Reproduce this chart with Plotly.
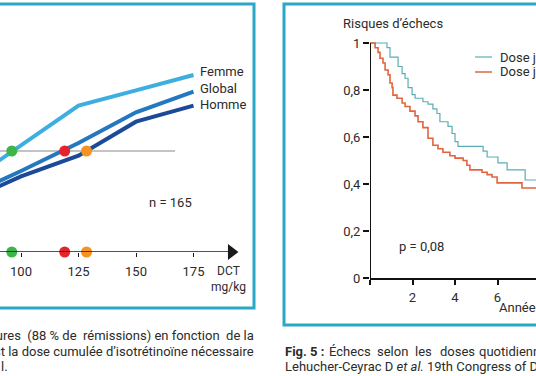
import plotly.graph_objects as go

W, H = 536, 376


def px(x):
    return x / W


def py(y):
    return 1 - y / H


# ---------------- Left chart data: % guérisons vs DCT ----------------
dose = [75, 100, 125, 150, 175]
femme = [82.9, 88.9, 94.8, 97.1, 99.4]
global_ = [81.0, 85.0, 89.2, 93.8, 96.9]
homme = [80.3, 84.2, 87.3, 92.4, 94.8]
series_names = ["Femme", "Global", "Homme"]
seuil = 88
seuil_dose = [75, 167]
cross_dose = [96, 119, 128.5]
cross_colors = ["#3cb54a", "#e5232b", "#f6921e"]
left_ticks = [100, 125, 150, 175]
n_label = "n = 165"

# ---------------- Right chart data: Kaplan-Meier ----------------
teal_t = [0, 0.8, 0.94, 1.32, 1.51, 1.65, 1.79, 1.98, 2.12, 2.49, 2.73, 2.96, 3.15,
          3.29, 3.67, 3.86, 4.0, 4.14, 5.32, 5.51, 6.02, 6.45, 7.3, 8.5]
teal_s = [1.0, 0.98, 0.94, 0.90, 0.87, 0.85, 0.81, 0.78, 0.765, 0.75, 0.74, 0.72, 0.70,
          0.665, 0.645, 0.615, 0.58, 0.56, 0.54, 0.515, 0.49, 0.46, 0.417, 0.417]
red_t = [0, 0.24, 0.38, 0.47, 0.61, 0.71, 0.85, 0.94, 1.04, 1.08, 1.27, 1.51, 1.65,
         1.88, 2.12, 2.26, 2.49, 2.73, 2.96, 3.2, 3.43, 3.76, 4.0, 4.38, 4.56, 4.7,
         5.27, 5.51, 5.74, 5.98, 7.15, 8.5]
red_s = [1.0, 0.98, 0.96, 0.935, 0.915, 0.885, 0.865, 0.83, 0.81, 0.778, 0.765, 0.745, 0.73,
         0.71, 0.69, 0.665, 0.64, 0.595, 0.565, 0.55, 0.535, 0.52, 0.51, 0.50, 0.48, 0.46,
         0.45, 0.44, 0.43, 0.405, 0.383, 0.383]
km_yticks = [0, 0.2, 0.4, 0.6, 0.8, 1]
km_yticktext = ["0", "0,2", "0,4", "0,6", "0,8", "1"]
km_xticks = [0, 2, 4, 6]
km_xticktext = ["", "2", "4", "6"]

caption_left = ["cures (88 % de rémissions) en fonction de la",
                "st la dose cumulée d’isotrétinoïne nécessaire",
                "l."]
caption_right_1 = ["<b>Fig. 5 :</b>", "Échecs", "selon", "les", "doses", "quotidiennes"]
caption_right_2 = "Lehucher-Ceyrac D <i>et al.</i> 19th Congress of Dermatology"

FONT = "Roboto"
TXT = "#2b2b2b"
BORDER = "#2ba7c8"
c_femme, c_global, c_homme = "#3daee0", "#2478c0", "#1c4a98"
c_teal, c_red = "#5aaeb4", "#e2643f"

fig = go.Figure()


def note(x, y, text, xanchor="left", size=13):
    fig.add_annotation(x=px(x), y=py(y), xref="paper", yref="paper", text=text,
                       showarrow=False, xanchor=xanchor, yanchor="middle",
                       font=dict(family=FONT, size=size, color=TXT))


# left chart
fig.add_trace(go.Scatter(x=seuil_dose, y=[seuil, seuil], mode="lines",
                         line=dict(color="#8a8a8a", width=1), xaxis="x", yaxis="y"))
for ys, col in zip([femme, global_, homme], [c_femme, c_global, c_homme]):
    fig.add_trace(go.Scatter(x=dose, y=ys, mode="lines", line=dict(color=col, width=4),
                             xaxis="x", yaxis="y"))
fig.add_trace(go.Scatter(x=cross_dose, y=[seuil] * 3, mode="markers",
                         marker=dict(color=cross_colors, size=11), xaxis="x", yaxis="y"))
ymin_left = 72.85
fig.add_trace(go.Scatter(x=cross_dose, y=[ymin_left] * 3, mode="markers", cliponaxis=False,
                         marker=dict(color=cross_colors, size=11), xaxis="x", yaxis="y"))
fig.add_trace(go.Scatter(x=[191.5], y=[ymin_left], mode="markers", cliponaxis=False,
                         marker=dict(symbol="triangle-right", size=14, color="#1a1a1a"),
                         xaxis="x", yaxis="y"))

for name, yy in zip(series_names, [72, 89, 104]):
    note(198, yy, name)
note(170, 202, n_label, "center")
note(228, 279, "DCT<br>mg/kg", "center", 12)

# right chart
fig.add_trace(go.Scatter(x=teal_t, y=teal_s, mode="lines", line=dict(color=c_teal, width=1.2,
                         shape="hv"), xaxis="x2", yaxis="y2"))
fig.add_trace(go.Scatter(x=red_t, y=red_s, mode="lines", line=dict(color=c_red, width=1.6,
                         shape="hv"), xaxis="x2", yaxis="y2"))

shapes = []
shapes.append(dict(type="rect", xref="paper", yref="paper", x0=px(-10), x1=px(254),
                   y0=py(308), y1=py(4), line=dict(color=BORDER, width=3)))
shapes.append(dict(type="rect", xref="paper", yref="paper", x0=px(284), x1=px(560),
                   y0=py(325), y1=py(4), line=dict(color=BORDER, width=3)))
shapes.append(dict(type="line", xref="x", yref="y", x0=85, x1=190, y0=ymin_left,
                   y1=ymin_left, line=dict(color="#1a1a1a", width=1.5)))
shapes.append(dict(type="line", xref="x2", yref="y2", x0=0, x1=0, y0=0, y1=1,
                   line=dict(color="#111", width=2)))
shapes.append(dict(type="line", xref="paper", yref="paper", x0=px(475), x1=px(492),
                   y0=py(57), y1=py(57), line=dict(color=c_teal, width=1.2)))
shapes.append(dict(type="line", xref="paper", yref="paper", x0=px(475), x1=px(492),
                   y0=py(72), y1=py(72), line=dict(color=c_red, width=1.5)))

for yy in [57, 72]:
    note(498, yy, "Dose journalière")
note(341, 23, "Risques d’échecs")
note(397, 246, "p = 0,08")
note(497, 307, "Années")

# captions: justified text, widened with non-breaking spaces between some words
w1 = caption_left[0].split(" ")
line1 = w1[0]
for i, w in enumerate(w1[1:]):
    line1 += ("\u00a0 " if i in (0, 3, 6) else " ") + w
note(256, 335, line1, "right")
note(256, 351, caption_left[1], "right")
note(-1, 366, caption_left[2])
for w, xx in zip(caption_right_1, [283, 327, 375, 413, 438, 477]):
    note(xx, 351, w)
note(283, 366, caption_right_2)

fig.update_layout(
    width=W, height=H, margin=dict(l=0, r=0, t=0, b=0, pad=0),
    paper_bgcolor="white", plot_bgcolor="rgba(0,0,0,0)", showlegend=False,
    shapes=shapes,
    font=dict(family=FONT, size=13, color=TXT),
    xaxis=dict(domain=[0, px(255)], range=[90.87, 201.74], showgrid=False, zeroline=False,
               showline=False, tickvals=left_ticks, ticks="outside", ticklen=4,
               tickcolor="#1a1a1a", ticklabelstandoff=3, anchor="y", automargin=False,
               tickfont=dict(family=FONT, size=13, color=TXT)),
    yaxis=dict(domain=[py(252), py(20)], range=[ymin_left, 107.65], visible=False,
               anchor="x", automargin=False),
    xaxis2=dict(domain=[px(370), 1], range=[0, 7.81], showgrid=False, zeroline=False,
                showline=True, linecolor="#111", linewidth=2, tickvals=km_xticks,
                ticktext=km_xticktext, ticks="outside", ticklen=5, tickcolor="#111",
                tickwidth=1.5, anchor="y2", ticklabelstandoff=1, automargin=False,
                tickfont=dict(family=FONT, size=13, color=TXT)),
    yaxis2=dict(domain=[py(278), py(38.3)], range=[0, 1.02], showgrid=False, zeroline=False,
                showline=False, tickvals=km_yticks, ticktext=km_yticktext, ticks="outside",
                ticklen=6, tickcolor="#111", tickwidth=2, anchor="x2", automargin=False,
                tickfont=dict(family=FONT, size=13, color=TXT)),
)

fig.write_html("out.html", config={"displayModeBar": False},
               post_script="document.body.style.margin='0px';")
